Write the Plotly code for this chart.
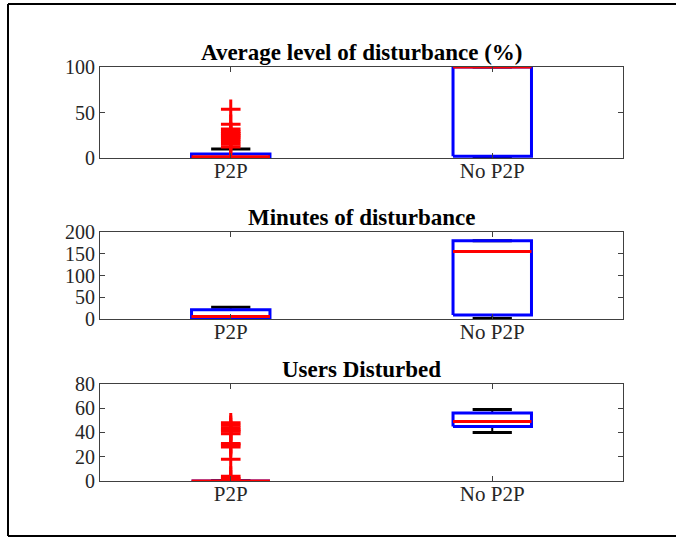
import plotly.graph_objects as go

# Groups compared in every panel
groups = ["P2P", "No P2P"]

# Panel titles and y-axis settings
titles = ["Average level of disturbance (%)", "Minutes of disturbance", "Users Disturbed"]
y_ranges = [[0, 100], [0, 200], [0, 80]]
y_ticks = [[0, 50, 100], [0, 50, 100, 150, 200], [0, 20, 40, 60, 80]]

# Box statistics per panel, one value per group: [P2P, No P2P]
avg_q1 = [0.0, 2.0]
avg_median = [1.5, 100.0]
avg_q3 = [4.5, 100.0]
avg_low = [0.0, 0.0]
avg_high = [9.8, 100.0]
avg_outliers = [[12, 15, 18, 21, 23, 25, 27, 29, 32, 37, 53.5], []]

min_q1 = [0.0, 9.0]
min_median = [6.0, 155.0]
min_q3 = [21.5, 180.0]
min_low = [0.0, 1.0]
min_high = [27.0, 180.0]
min_outliers = [[], []]

usr_q1 = [0.0, 45.0]
usr_median = [0.0, 49.0]
usr_q3 = [0.0, 56.0]
usr_low = [0.0, 40.0]
usr_high = [0.0, 59.0]
usr_outliers = [[1, 2, 4, 18, 28, 30, 31, 39, 41, 42, 44, 46, 48], []]

panels = [
    (avg_q1, avg_median, avg_q3, avg_low, avg_high, avg_outliers),
    (min_q1, min_median, min_q3, min_low, min_high, min_outliers),
    (usr_q1, usr_median, usr_q3, usr_low, usr_high, usr_outliers),
]

BOX_HALF = 0.15
CAP_HALF = 0.075
BLUE = "#0000FF"
RED = "#FF0000"
AXIS = "#404040"
FONT = "Liberation Serif"

# Panel vertical domains (bottom, top) in paper units, top panel first
domains = [[0.7802, 1.0], [0.3913, 0.6014], [0.0, 0.2343]]

fig = go.Figure()

for p, (q1, med, q3, lo, hi, outl) in enumerate(panels):
    ax = "" if p == 0 else str(p + 1)
    xa, ya = "x" + ax, "y" + ax
    for g in range(len(groups)):
        xc = g + 1
        # whisker stems
        fig.add_trace(go.Scatter(
            x=[xc, xc, None, xc, xc], y=[q3[g], hi[g], None, lo[g], q1[g]],
            mode="lines", line=dict(color="black", width=2),
            xaxis=xa, yaxis=ya, showlegend=False, hoverinfo="skip"))
        # whisker caps
        fig.add_trace(go.Scatter(
            x=[xc - CAP_HALF, xc + CAP_HALF, None, xc - CAP_HALF, xc + CAP_HALF],
            y=[hi[g], hi[g], None, lo[g], lo[g]],
            mode="lines", line=dict(color="black", width=3),
            xaxis=xa, yaxis=ya, showlegend=False, hoverinfo="skip"))
        # box
        fig.add_trace(go.Scatter(
            x=[xc - BOX_HALF, xc + BOX_HALF, xc + BOX_HALF, xc - BOX_HALF, xc - BOX_HALF],
            y=[q1[g], q1[g], q3[g], q3[g], q1[g]],
            mode="lines", line=dict(color=BLUE, width=3),
            xaxis=xa, yaxis=ya, showlegend=False, hoverinfo="skip"))
        # median
        fig.add_trace(go.Scatter(
            x=[xc - BOX_HALF, xc + BOX_HALF], y=[med[g], med[g]],
            mode="lines", line=dict(color=RED, width=3),
            xaxis=xa, yaxis=ya, showlegend=False, hoverinfo="skip"))
        # outliers
        if outl[g]:
            ys = sorted(outl[g])
            fig.add_trace(go.Scatter(
                x=[xc, xc], y=[q3[g], ys[-1]],
                mode="lines", line=dict(color=RED, width=2),
                xaxis=xa, yaxis=ya, showlegend=False, hoverinfo="skip"))
            fig.add_trace(go.Scatter(
                x=[xc] * len(ys), y=ys, mode="markers",
                marker=dict(symbol="cross-thin", size=14, color=RED,
                            line=dict(color=RED, width=3)),
                xaxis=xa, yaxis=ya, showlegend=False, hoverinfo="skip"))

layout = dict(
    width=676, height=538,
    margin=dict(l=100, r=53, t=67, b=57),
    paper_bgcolor="white", plot_bgcolor="white",
    font=dict(family=FONT, color="#262626"),
    showlegend=False,
)

for p in range(3):
    ax = "" if p == 0 else str(p + 1)
    layout["xaxis" + ax] = dict(
        domain=[0, 1], anchor="y" + ax, range=[0.5, 2.5],
        tickvals=[1, 2], ticktext=groups, ticks="inside", ticklen=5,
        tickcolor=AXIS, showline=True, linecolor=AXIS, linewidth=1,
        mirror="ticks", showgrid=False, zeroline=False, ticklabelstandoff=-6,
        tickfont=dict(family=FONT, size=21, color="#262626"), fixedrange=True)
    layout["yaxis" + ax] = dict(
        domain=domains[p], anchor="x" + ax, range=y_ranges[p],
        tickvals=y_ticks[p], ticks="inside", ticklen=5, tickcolor=AXIS,
        showline=True, linecolor=AXIS, linewidth=1, mirror="ticks",
        showgrid=False, zeroline=False,
        tickfont=dict(family=FONT, size=20, color="#262626"), fixedrange=True)

fig.update_layout(**layout)

# Panel titles
for p in range(3):
    fig.add_annotation(
        text="<b>" + titles[p] + "</b>", xref="paper", yref="paper",
        x=0.5, y=domains[p][1], xanchor="center", yanchor="bottom", yshift=0,
        showarrow=False, font=dict(family=FONT, size=23, color="black"))

# Outer frame: left, top and bottom edges, running to the page's right edge
frame_left = (8 - 100) / 523
frame_right = (676 - 100) / 523
frame_bottom = (481 - 536) / 414
frame_top = (481 - 4) / 414
for x0, y0, x1, y1 in [
    (frame_left, frame_bottom, frame_left, frame_top),
    (frame_left, frame_top, frame_right, frame_top),
    (frame_left, frame_bottom, frame_right, frame_bottom),
]:
    fig.add_shape(type="line", xref="paper", yref="paper",
                  x0=x0, y0=y0, x1=x1, y1=y1,
                  line=dict(color="black", width=2))

fig.write_html("out.html")
